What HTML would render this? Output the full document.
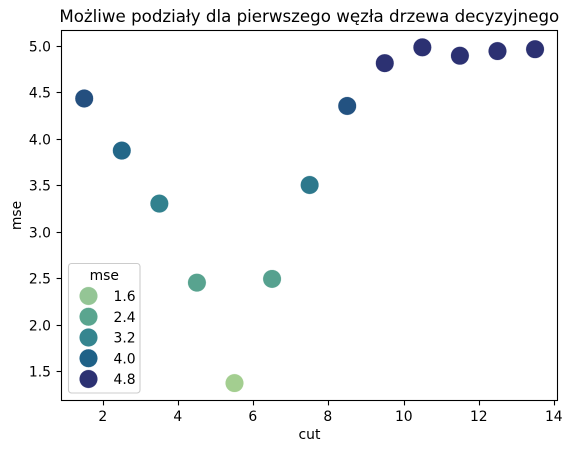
<!DOCTYPE html>
<html>
<head>
<meta charset="utf-8">
<style>
html,body{margin:0;padding:0;background:#fff;width:572px;height:453px;overflow:hidden}
svg{display:block;font-family:"DejaVu Sans","Liberation Sans",sans-serif;fill:#000}
</style>
</head>
<body>
<svg id="chart" xmlns="http://www.w3.org/2000/svg" width="572" height="453" viewBox="0 0 572 453">
<text x="309.3" y="22" font-size="16.67" text-anchor="middle">Możliwe podziały dla pierwszego węzła drzewa decyzyjnego</text>
<g id="marks"></g>
<g id="xticks"></g>
<g id="yticks"></g>
<rect x="61.5" y="30.5" width="496" height="370" fill="none" stroke="#000" stroke-width="1.1"/>
<text x="309.5" y="439" font-size="13.9" text-anchor="middle">cut</text>
<text transform="translate(21,215.5) rotate(-90)" font-size="13.9" text-anchor="middle">mse</text>
<g id="legend">
<rect x="68.5" y="263.5" width="71.5" height="129.5" rx="3" fill="#fff" fill-opacity="0.8" stroke="#ccc" stroke-width="1.1"/>
<text x="104.3" y="280" font-size="13.9" text-anchor="middle">mse</text>
</g>
</svg>
<script>
var cuts = [1.5, 2.5, 3.5, 4.5, 5.5, 6.5, 7.5, 8.5, 9.5, 10.5, 11.5, 12.5, 13.5];
var mseValues = [4.43, 3.87, 3.30, 2.45, 1.37, 2.49, 3.50, 4.35, 4.81, 4.98, 4.89, 4.94, 4.96];
var xTickValues = [2, 4, 6, 8, 10, 12, 14];
var yTickValues = [1.5, 2.0, 2.5, 3.0, 3.5, 4.0, 4.5, 5.0];
var legendValues = [1.6, 2.4, 3.2, 4.0, 4.8];

var NS = 'http://www.w3.org/2000/svg';
function xScale(v) { return 103 + (v - 2) * 37.57; }
function yScale(v) { return 45.5 + (5 - v) * 93; }
function colorFor(v) {
  var s = [[1.3, 168, 209, 143], [1.6, 148, 197, 149], [2.4, 90, 165, 143], [3.2, 53, 133, 143], [4.0, 31, 97, 135], [4.5, 37, 76, 126], [4.8, 44, 49, 114]];
  if (v <= s[0][0]) return 'rgb(' + s[0].slice(1).join(',') + ')';
  for (var i = 1; i < s.length; i++) {
    if (v <= s[i][0]) {
      var t = (v - s[i - 1][0]) / (s[i][0] - s[i - 1][0]);
      var c = [1, 2, 3].map(function (k) { return Math.round(s[i - 1][k] + t * (s[i][k] - s[i - 1][k])); });
      return 'rgb(' + c.join(',') + ')';
    }
  }
  return 'rgb(' + s[s.length - 1].slice(1).join(',') + ')';
}
function make(tag, attrs, parent) {
  var el = document.createElementNS(NS, tag);
  for (var k in attrs) el.setAttribute(k, attrs[k]);
  parent.appendChild(el);
  return el;
}
var marks = document.getElementById('marks');
cuts.forEach(function (c, i) {
  var p = make('circle', { cx: xScale(c), cy: yScale(mseValues[i]), r: 9.2, fill: colorFor(mseValues[i]), stroke: '#fff', 'stroke-width': 0.35 }, marks);
  
  
});
var xg = document.getElementById('xticks');
xTickValues.forEach(function (v) {
  var x = Math.round(xScale(v)) + 0.5;
  var tick = make('line', { x1: x, x2: x, y1: 400.5, y2: 405.4, stroke: '#000', 'stroke-width': 1.1 }, xg);
  
  
  var label = make('text', { x: x - 0.7, y: 421, 'font-size': 13.9, 'text-anchor': 'middle' }, xg);
  label.textContent = String(v);
  
  
});
var yg = document.getElementById('yticks');
yTickValues.forEach(function (v) {
  var y = Math.round(yScale(v)) + 0.5;
  var tick = make('line', { x1: 56.6, x2: 61.5, y1: y, y2: y, stroke: '#000', 'stroke-width': 1.1 }, yg);
  
  
  var label = make('text', { x: 51, y: y + 5, 'font-size': 13.9, 'text-anchor': 'end' }, yg);
  label.textContent = v.toFixed(1);
  
  
});
var lg = document.getElementById('legend');
legendValues.forEach(function (v, i) {
  var y = 296 + i * 20.75;
  var dot = make('circle', { cx: 88.5, cy: y, r: 9.2, fill: colorFor(v), stroke: '#fff', 'stroke-width': 0.35 }, lg);
  
  
  var label = make('text', { x: 113.5, y: y + 5, 'font-size': 13.9 }, lg);
  label.textContent = v.toFixed(1);
  
  
});
</script>
</body>
</html>
